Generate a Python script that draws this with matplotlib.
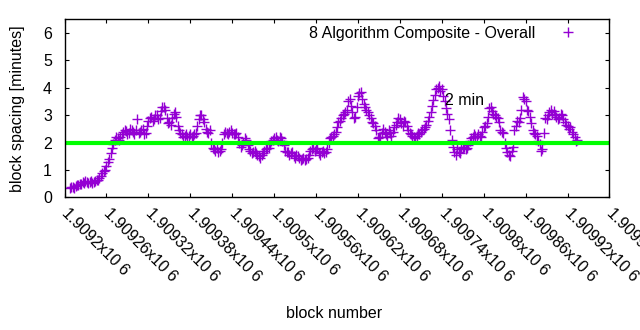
import numpy as np
import matplotlib
matplotlib.use("Agg")
import matplotlib.pyplot as plt

plt.rcParams["font.family"] = ["Liberation Sans", "DejaVu Sans"]

# block spacing (minutes), read every 4 blocks starting at block 1909208
spacing_a = [
    0.33, 0.36, 0.40, 0.44, 0.50, 0.52, 0.56, 0.55, 0.53, 0.58,
    0.65, 0.78, 0.95, 1.15, 1.40, 1.80, 2.10, 2.15, 2.20, 2.38,
    2.42, 2.35, 2.45, 2.30, 2.85, 2.40, 2.50, 2.35, 2.80, 2.95,
    2.85, 3.00, 2.90, 3.28, 3.20, 2.70, 2.65, 3.05, 2.95, 2.45,
    2.30, 2.25, 2.20, 2.30, 2.25, 2.35, 2.85, 3.00, 2.75, 2.40,
    2.45, 1.80, 1.70, 1.65, 1.75, 2.30, 2.35, 2.40, 2.35, 2.30,
    2.20, 1.85, 2.00, 2.10, 1.75, 1.60, 1.70, 1.55, 1.45, 1.60,
    1.75, 1.80, 2.05, 2.15, 2.10, 2.20, 2.05, 1.70, 1.65, 1.60,
    1.50, 1.55, 1.45, 1.40, 1.35, 1.45, 1.70, 1.80, 1.75, 1.60,
    1.65, 1.60, 1.75, 2.15, 2.25, 2.40, 2.75, 2.90, 3.05, 3.20,
    3.60, 3.10, 2.95, 3.70, 3.85, 3.40, 3.20, 3.00, 2.75, 2.60,
    2.15, 2.20, 2.50, 2.30, 2.45, 2.25, 2.55, 2.75, 2.85, 2.60,
    2.75, 2.45, 2.30, 2.20, 2.25, 2.30, 2.45, 2.55, 2.80, 3.10,
    3.55, 3.95, 4.05, 3.95, 3.50, 3.05, 2.45, 1.85, 1.55, 1.65,
    1.80, 1.85, 1.80, 2.05, 2.20, 2.25, 2.30, 2.20, 2.55, 2.70,
    3.25, 3.15, 3.00, 2.90, 2.45, 2.35, 1.80, 1.55, 1.70, 2.45,
    2.80, 2.90, 3.65, 3.50, 3.15, 2.70, 2.35, 2.25, 1.95, 1.75,
    2.90, 3.00, 3.20, 3.15, 2.95, 2.90, 3.00, 2.75, 2.60, 2.55,
    2.30, 2.05,
]
# the blocks in between, starting at block 1909210
spacing_b = [
    0.38, 0.35, 0.45, 0.48, 0.55, 0.60, 0.52, 0.58, 0.55, 0.62,
    0.70, 0.90, 1.00, 1.30, 1.60, 1.95, 2.20, 2.10, 2.30, 2.45,
    2.30, 2.50, 2.40, 2.45, 2.35, 2.45, 2.30, 2.60, 2.90, 2.80,
    3.00, 2.85, 3.15, 3.30, 2.90, 2.75, 2.90, 3.10, 2.60, 2.35,
    2.20, 2.30, 2.25, 2.20, 2.30, 2.60, 3.00, 2.85, 2.50, 2.35,
    2.00, 1.75, 1.80, 1.70, 2.00, 2.40, 2.30, 2.45, 2.30, 2.35,
    2.00, 1.90, 2.15, 1.90, 1.70, 1.65, 1.60, 1.50, 1.55, 1.70,
    1.80, 1.95, 2.10, 2.20, 2.05, 2.15, 1.90, 1.65, 1.55, 1.65,
    1.45, 1.50, 1.35, 1.45, 1.40, 1.55, 1.75, 1.70, 1.80, 1.55,
    1.70, 1.65, 2.00, 2.20, 2.30, 2.55, 2.80, 3.00, 3.10, 3.50,
    3.35, 2.90, 3.30, 3.80, 3.60, 3.30, 3.10, 2.90, 2.70, 2.45,
    2.20, 2.35, 2.40, 2.20, 2.35, 2.40, 2.65, 2.90, 2.70, 2.80,
    2.60, 2.35, 2.25, 2.15, 2.35, 2.40, 2.50, 2.65, 2.95, 3.35,
    3.75, 4.00, 3.90, 3.70, 3.25, 2.85, 2.10, 1.65, 1.75, 1.60,
    1.85, 1.75, 1.90, 2.15, 2.30, 2.20, 2.25, 2.40, 2.60, 2.95,
    3.30, 3.05, 2.95, 2.75, 2.40, 2.00, 1.65, 1.50, 1.85, 2.60,
    2.75, 3.20, 3.60, 3.20, 2.95, 2.45, 2.30, 2.05, 1.70, 2.35,
    2.85, 3.10, 3.05, 3.00, 2.85, 3.05, 2.85, 2.65, 2.50, 2.40,
    2.20, 2.10,
]
blocks_a = 1909208 + 4 * np.arange(len(spacing_a))
blocks_b = 1909210 + 4 * np.arange(len(spacing_b))
blocks = np.concatenate([blocks_a, blocks_b])
spacing = np.concatenate([spacing_a, spacing_b])

target = 2.0
xmin, xmax = 1909200, 1909980
xticks = np.arange(1909200, 1909981, 60)
xlabels = ["%gx10 6" % (t / 1e6) for t in xticks]

fs = 11.5
fig = plt.figure(figsize=(6.4, 3.3), dpi=100)
ax = fig.add_axes([0.1008, 0.4021, 0.8515, 0.5394])

ax.plot(blocks, spacing, linestyle="none", marker="+", markersize=7,
        markeredgewidth=1.0, color="#9400d3",
        label="8 Algorithm Composite - Overall")
ax.axhline(target, color="#00ff00", linewidth=3.0)
ax.text(1909745, 3.53, "2 min", fontsize=fs, va="center", ha="left")

ax.set_xlim(xmin, xmax)
ax.set_ylim(0, 6.5)
ax.set_yticks(range(0, 7))
ax.set_xticks(xticks)
ax.set_xticklabels(xlabels, rotation=-45, ha="left", va="center",
                   rotation_mode="anchor")
ax.tick_params(direction="in", length=3, width=0.8, top=True, right=True,
               labelsize=fs)
ax.tick_params(axis="x", pad=10)
ax.tick_params(axis="y", pad=9)
for s in ax.spines.values():
    s.set_linewidth(1.0)

ax.set_ylabel("block spacing [minutes]", fontsize=fs)
ax.set_xlabel("block number", fontsize=fs)
ax.xaxis.set_label_coords(0.494, -0.61)
ax.yaxis.set_label_coords(-0.073, 0.5)

ax.legend(loc="upper right", markerfirst=False, frameon=False, fontsize=fs,
          handlelength=1.5, handletextpad=1.3, borderaxespad=0.3,
          bbox_to_anchor=(0.966, 1.025))

fig.savefig("out.png", dpi=100)
